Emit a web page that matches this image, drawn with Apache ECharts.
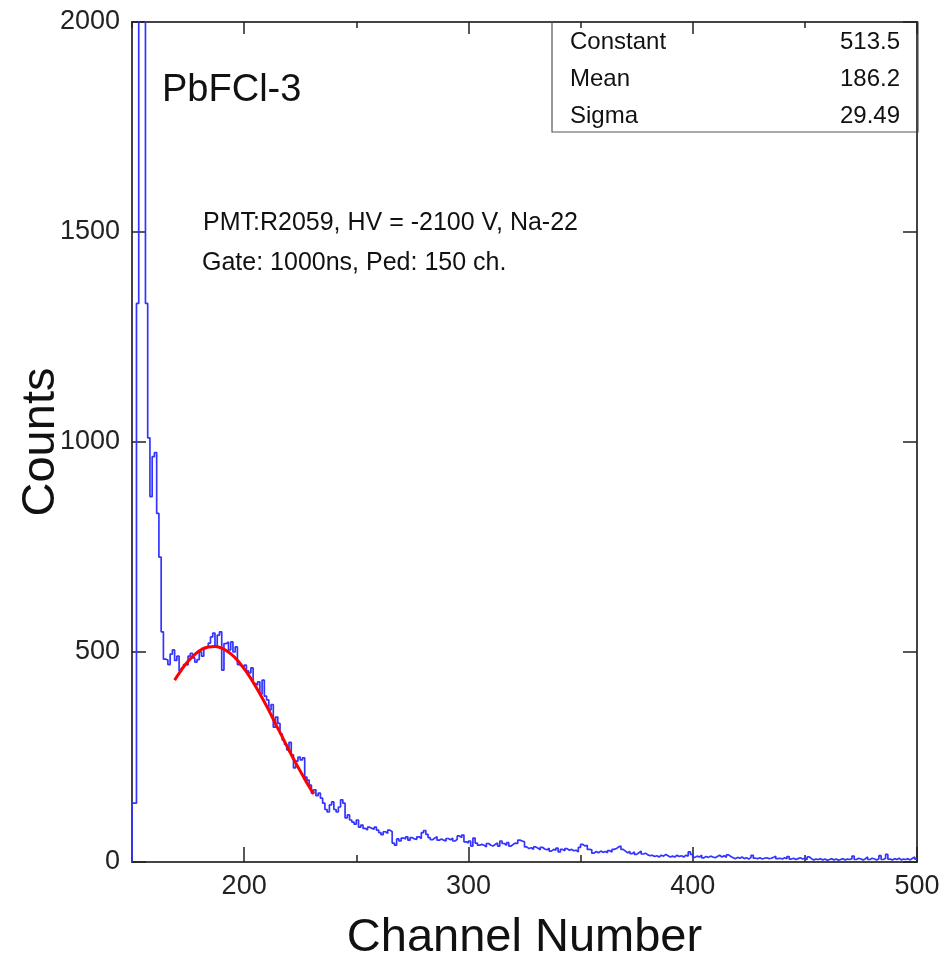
<!DOCTYPE html>
<html>
<head>
<meta charset="utf-8">
<script src="https://cdn.jsdelivr.net/npm/echarts@6/dist/echarts.min.js"></script>
<style>
html, body { margin: 0; padding: 0; background: #fff; }
#main { width: 943px; height: 955px; }
</style>
</head>
<body>
<div id="main"></div>
<script>
// channel histogram, one bin per channel starting at 150
var firstChannel = 150;
var counts = [
  140, 140, 1330, 2400, 3000, 2300, 1330, 1010, 870, 965,
  975, 830, 726, 548, 483, 481, 470, 495, 505, 480,
  490, 455, 462, 470, 469, 490, 497, 486, 476, 482,
  500, 490, 508, 512, 521, 536, 545, 512, 540, 548,
  457, 520, 524, 505, 524, 500, 512, 470, 466, 464,
  469, 455, 450, 462, 425, 421, 429, 400, 433, 395,
  386, 362, 375, 321, 345, 330, 305, 290, 280, 267,
  285, 255, 224, 240, 250, 243, 248, 202, 195, 183,
  164, 172, 158, 164, 152, 140, 125, 119, 136, 143,
  125, 119, 131, 148, 140, 105, 112, 100, 95, 90,
  100, 83, 88, 80, 76, 83, 80, 78, 83, 76,
  70, 65, 72, 68, 76, 72, 45, 40, 55, 50,
  57, 55, 60, 52, 58, 55, 54, 60, 56, 70,
  75, 66, 58, 53, 57, 60, 52, 55, 52, 50,
  56, 53, 57, 50, 54, 62, 58, 64, 48, 45,
  50, 38, 57, 45, 40, 42, 40, 36, 44, 40,
  38, 42, 45, 38, 50, 44, 40, 46, 38, 42,
  45, 44, 52, 50, 48, 36, 32, 34, 30, 36,
  33, 29, 35, 31, 29, 33, 26, 30, 28, 33,
  24, 30, 27, 32, 28, 30, 27, 28, 24, 35,
  42, 38, 40, 30, 29, 21, 25, 22, 26, 23,
  25, 22, 27, 24, 30, 32, 36, 38, 30, 26,
  22, 25, 20, 24, 18, 22, 26, 19, 21, 17,
  15, 16, 13, 15, 12, 16, 14, 18, 15, 12,
  14, 12, 16, 13, 15, 12, 16, 14, 24, 18,
  11, 14, 12, 16, 10, 13, 11, 14, 12, 10,
  13, 16, 12, 15, 11, 17, 13, 10, 8, 11,
  9, 12, 8, 10, 7, 11, 16, 9, 8, 10,
  7, 9, 10, 8, 9, 11, 14, 8, 9, 7,
  10, 8, 13, 7, 9, 6, 8, 10, 7, 9,
  6, 12, 8, 5, 7, 6, 8, 5, 7, 4,
  6, 8, 5, 7, 4, 6, 8, 5, 7, 6,
  8, 14, 6, 9, 7, 5, 8, 12, 6, 9,
  7, 5, 8, 15, 6, 9, 18, 7, 5, 8,
  6, 9, 5, 7, 6, 8, 5, 9, 12, 7
];

// gaussian fit curve
var fitX = [169, 172, 175, 178, 181, 184, 187, 190, 193, 196, 199, 202, 205, 208, 211, 214, 217, 220, 223, 226, 229, 231];
var fitY = [433, 457, 478, 494, 506, 512, 513, 509, 500, 486, 467, 445, 419, 391, 361, 329, 298, 266, 236, 207, 179, 162];

var xMajorTicks = [200, 300, 400, 500];
var xMinorTicks = [150, 250, 350, 450];
var statNames = ['Constant', 'Mean', 'Sigma'];
var statValues = ['513.5', '186.2', '29.49'];

var font = 'Liberation Sans';
var frameColor = '#444';

var histData = [[firstChannel, 0]];
for (var i = 0; i < counts.length; i++) {
  histData.push([firstChannel + i, counts[i]]);
}
histData.push([firstChannel + counts.length, counts[counts.length - 1]]);

var fitData = fitX.map(function (x, i) { return [x, fitY[i]]; });

function plain(v) { return String(v); }

function xAx(pos, ticks, len, showLine, showLabel) {
  return {
    type: 'value', min: 150, max: 500, position: pos,
    axisLine: { show: showLine, onZero: false, lineStyle: { color: frameColor, width: 2 } },
    axisTick: { show: true, inside: true, length: len, customValues: ticks, lineStyle: { color: '#222', width: 1.5 } },
    axisLabel: { show: showLabel, customValues: ticks, formatter: plain, fontSize: 27, fontFamily: font, color: '#222', margin: 11 },
    splitLine: { show: false }
  };
}

var stats = [];
for (var k = 0; k < statNames.length; k++) {
  stats.push({ type: 'text', left: 570, top: 30 + k * 37,
    style: { text: statNames[k], font: '24px "Liberation Sans"', fill: '#111' } });
  stats.push({ type: 'text', right: 43, top: 30 + k * 37,
    style: { text: statValues[k], font: '24px "Liberation Sans"', fill: '#111' } });
}

var myChart = echarts.init(document.getElementById('main'));
var option = {
  animation: false,
  grid: { left: 132, right: 26, top: 22, bottom: 93, containLabel: false, outerBoundsMode: 'none' },
  xAxis: [
    Object.assign(xAx('bottom', xMajorTicks, 15, true, true), {
      name: 'Channel Number', nameLocation: 'middle', nameGap: 53, nameMoveOverlap: false,
      nameTextStyle: { fontSize: 47, fontFamily: font, color: '#111' }
    }),
    xAx('bottom', xMinorTicks, 7, false, false),
    xAx('top', xMajorTicks, 12, true, false),
    xAx('top', xMinorTicks, 6, false, false)
  ],
  yAxis: [
    {
      type: 'value', min: 0, max: 2000, interval: 500, position: 'left',
      axisLine: { show: true, lineStyle: { color: frameColor, width: 2 } },
      axisTick: { show: true, inside: true, length: 14, lineStyle: { color: '#222', width: 1.5 } },
      axisLabel: { formatter: plain, fontSize: 27, fontFamily: font, color: '#222', margin: 12 },
      splitLine: { show: false },
      name: 'Counts', nameLocation: 'middle', nameGap: 67, nameMoveOverlap: false,
      nameTextStyle: { fontSize: 47, fontFamily: font, color: '#111' }
    },
    {
      type: 'value', min: 0, max: 2000, interval: 500, position: 'right',
      axisLine: { show: true, lineStyle: { color: frameColor, width: 2 } },
      axisTick: { show: true, inside: true, length: 14, lineStyle: { color: '#222', width: 1.5 } },
      axisLabel: { show: false },
      splitLine: { show: false }
    }
  ],
  graphic: [
    { type: 'text', left: 162, top: 72, style: { text: 'PbFCl-3', font: '38px "Liberation Sans"', fill: '#111' } },
    { type: 'text', left: 203, top: 211, style: { text: 'PMT:R2059, HV = -2100 V, Na-22', font: '25px "Liberation Sans"', fill: '#111' } },
    { type: 'text', left: 202, top: 251, style: { text: 'Gate: 1000ns, Ped: 150 ch.', font: '25px "Liberation Sans"', fill: '#111' } },
    { type: 'rect', shape: { x: 552, y: 22, width: 366, height: 110 }, style: { fill: 'none', stroke: '#555', lineWidth: 1.2 } }
  ].concat(stats),
  series: [
    {
      type: 'line', xAxisIndex: 0, yAxisIndex: 0,
      step: 'end', showSymbol: false, symbol: 'none', clip: true,
      lineStyle: { color: '#3434ff', width: 1.7 },
      data: histData
    },
    {
      type: 'line', xAxisIndex: 0, yAxisIndex: 0,
      smooth: true, showSymbol: false, symbol: 'none',
      lineStyle: { color: '#ff0000', width: 3 },
      data: fitData
    }
  ]
};
myChart.setOption(option);
</script>
</body>
</html>
